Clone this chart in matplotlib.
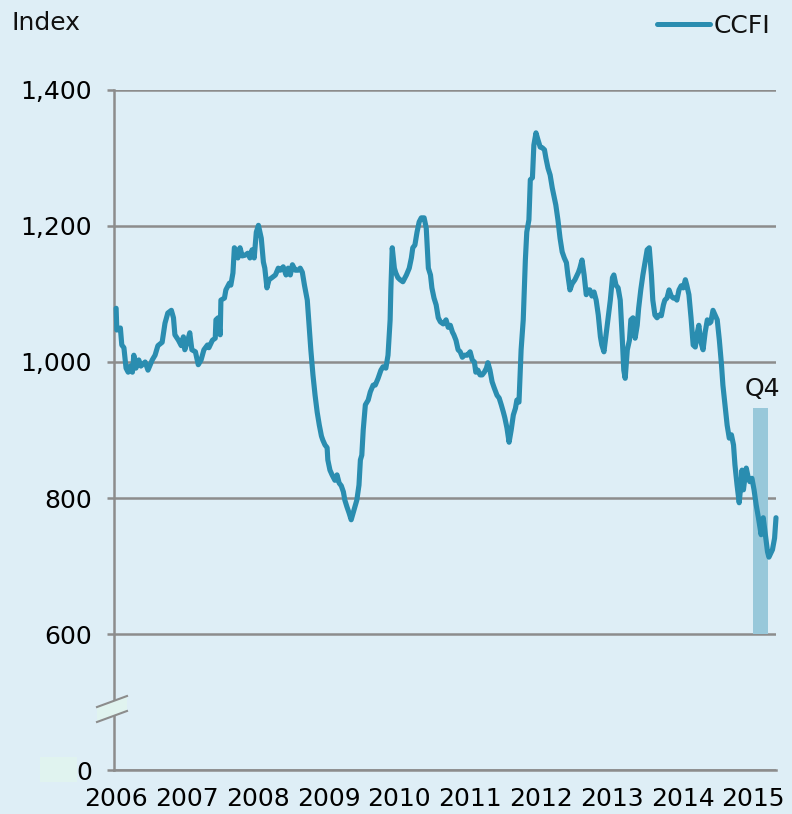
import matplotlib
matplotlib.use("Agg")
import matplotlib.pyplot as plt
from matplotlib.patches import Polygon, Rectangle

# CCFI weekly index (decimal year, index value)
fechas = [
    2006.00, 2006.01, 2006.06, 2006.08, 2006.11, 2006.14, 2006.17, 2006.20, 2006.23, 2006.25,
    2006.28, 2006.32, 2006.35, 2006.41, 2006.45, 2006.51, 2006.55, 2006.59, 2006.65, 2006.69,
    2006.73, 2006.78, 2006.81, 2006.83, 2006.88, 2006.92, 2006.95, 2006.97, 2007.01, 2007.04,
    2007.07, 2007.12, 2007.16, 2007.20, 2007.24, 2007.29, 2007.31, 2007.36, 2007.40, 2007.41,
    2007.44, 2007.47, 2007.48, 2007.53, 2007.55, 2007.60, 2007.62, 2007.65, 2007.67, 2007.69,
    2007.72, 2007.75, 2007.78, 2007.82, 2007.86, 2007.89, 2007.92, 2007.95, 2007.98, 2008.01,
    2008.05, 2008.08, 2008.10, 2008.13, 2008.16, 2008.20, 2008.25, 2008.29, 2008.32, 2008.36,
    2008.40, 2008.43, 2008.46, 2008.49, 2008.53, 2008.57, 2008.60, 2008.63, 2008.66, 2008.70,
    2008.73, 2008.75, 2008.78, 2008.81, 2008.84, 2008.87, 2008.90, 2008.92, 2008.95, 2008.98,
    2008.99, 2009.02, 2009.05, 2009.09, 2009.12, 2009.15, 2009.18, 2009.21, 2009.23, 2009.26,
    2009.29, 2009.32, 2009.35, 2009.38, 2009.40, 2009.43, 2009.45, 2009.47, 2009.49, 2009.52,
    2009.56, 2009.59, 2009.63, 2009.66, 2009.70, 2009.74, 2009.77, 2009.81, 2009.84, 2009.87,
    2009.88, 2009.90, 2009.93, 2009.95, 2009.98, 2010.01, 2010.05, 2010.10, 2010.14, 2010.17,
    2010.19, 2010.22, 2010.25, 2010.28, 2010.31, 2010.35, 2010.38, 2010.41, 2010.44, 2010.46,
    2010.49, 2010.52, 2010.55, 2010.58, 2010.62, 2010.66, 2010.69, 2010.72, 2010.75, 2010.77,
    2010.80, 2010.83, 2010.86, 2010.89, 2010.92, 2010.96, 2011.00, 2011.03, 2011.06, 2011.08,
    2011.11, 2011.14, 2011.17, 2011.20, 2011.23, 2011.25, 2011.28, 2011.31, 2011.34, 2011.38,
    2011.41, 2011.44, 2011.47, 2011.49, 2011.52, 2011.55, 2011.58, 2011.61, 2011.64, 2011.66,
    2011.69, 2011.72, 2011.75, 2011.78, 2011.80, 2011.83, 2011.85, 2011.88, 2011.90, 2011.93,
    2011.96, 2011.99, 2012.02, 2012.05, 2012.07, 2012.10, 2012.13, 2012.16, 2012.19, 2012.21,
    2012.24, 2012.27, 2012.30, 2012.33, 2012.36, 2012.38, 2012.41, 2012.44, 2012.48, 2012.53,
    2012.55, 2012.58, 2012.61, 2012.64, 2012.67, 2012.69, 2012.72, 2012.75, 2012.78, 2012.81,
    2012.84, 2012.86, 2012.89, 2012.92, 2012.95, 2012.98, 2013.01, 2013.03, 2013.06, 2013.09,
    2013.12, 2013.15, 2013.17, 2013.19, 2013.22, 2013.25, 2013.27, 2013.30, 2013.33, 2013.36,
    2013.38, 2013.41, 2013.44, 2013.47, 2013.50, 2013.53, 2013.56, 2013.58, 2013.61, 2013.64,
    2013.67, 2013.70, 2013.73, 2013.75, 2013.78, 2013.81, 2013.84, 2013.87, 2013.90, 2013.92,
    2013.95, 2013.98, 2014.01, 2014.04, 2014.06, 2014.09, 2014.12, 2014.15, 2014.18, 2014.21,
    2014.23, 2014.26, 2014.29, 2014.32, 2014.35, 2014.38, 2014.40, 2014.43, 2014.46, 2014.49,
    2014.52, 2014.55, 2014.57, 2014.60, 2014.63, 2014.66, 2014.69, 2014.72, 2014.74, 2014.77,
    2014.80, 2014.83, 2014.84, 2014.86, 2014.88, 2014.90, 2014.93, 2014.95, 2014.98, 2015.01,
    2015.04, 2015.07, 2015.11, 2015.14, 2015.17, 2015.20, 2015.22, 2015.27, 2015.30, 2015.32,
]
ccfi = [
    1079, 1047, 1050, 1025, 1021, 991, 985, 994, 985, 1010,
    991, 1003, 994, 1000, 988, 1003, 1010, 1024, 1029, 1057,
    1072, 1076, 1065, 1040, 1032, 1024, 1037, 1018, 1031, 1043,
    1018, 1015, 996, 1003, 1018, 1025, 1021, 1032, 1035, 1062,
    1065, 1040, 1091, 1094, 1106, 1116, 1113, 1131, 1168, 1165,
    1153, 1168, 1156, 1157, 1160, 1153, 1165, 1153, 1191, 1201,
    1182, 1147, 1138, 1109, 1121, 1124, 1128, 1138, 1135, 1140,
    1128, 1138, 1128, 1143, 1135, 1135, 1138, 1132, 1113, 1091,
    1047, 1018, 981, 951, 926, 907, 891, 885, 878, 874,
    856, 841, 834, 826, 834, 822, 818, 809, 797, 787,
    778, 768, 779, 790, 797, 819, 856, 863, 900, 937,
    944, 956, 966, 966, 976, 988, 993, 991, 1010, 1062,
    1106, 1168, 1138, 1131, 1124, 1121, 1118, 1128, 1138, 1153,
    1168, 1172, 1191, 1206, 1212, 1212, 1197, 1138, 1128, 1109,
    1094, 1084, 1065, 1059, 1056, 1062, 1051, 1054, 1044, 1040,
    1032, 1018, 1015, 1007, 1010, 1010, 1015, 1003, 1000, 985,
    988, 981, 981, 985, 991, 999, 988, 971, 962, 951,
    947, 937, 926, 918, 903, 882, 900, 922, 932, 944,
    941, 1018, 1062, 1150, 1191, 1209, 1268, 1271, 1319, 1337,
    1326, 1316, 1315, 1312, 1300, 1285, 1275, 1256, 1241, 1231,
    1209, 1182, 1162, 1153, 1146, 1128, 1106, 1115, 1121, 1132,
    1138, 1150, 1128, 1099, 1106, 1106, 1097, 1103, 1091, 1069,
    1037, 1025, 1015, 1040, 1065, 1091, 1124, 1128, 1113, 1109,
    1091, 1032, 988, 976, 1018, 1032, 1062, 1065, 1035, 1054,
    1079, 1106, 1128, 1147, 1165, 1168, 1128, 1091, 1069, 1065,
    1069, 1068, 1084, 1091, 1094, 1106, 1097, 1094, 1094, 1091,
    1106, 1112, 1109, 1121, 1113, 1099, 1065, 1025, 1022, 1044,
    1054, 1029, 1018, 1044, 1062, 1057, 1059, 1076, 1069, 1062,
    1032, 996, 966, 937, 907, 888, 893, 878, 849, 819,
    793, 826, 841, 812, 829, 844, 829, 824, 829, 812,
    790, 772, 746, 771, 746, 721, 713, 724, 741, 771,
]

anios = [2006, 2007, 2008, 2009, 2010, 2011, 2012, 2013, 2014, 2015]
ticks_y = [0, 600, 800, 1000, 1200, 1400]
etiquetas_y = ['0', '600', '800', '1,000', '1,200', '1,400']

# trimestre resaltado
q4_inicio = 2015.00
q4_fin = 2015.21
q4_alto = 932
q4_base = 600

fondo = '#deeef6'
azul = '#2a8db0'
gris = '#8c8c8c'
menta = '#e0f3ef'


def eje(v):
    # el tramo 0-600 esta cortado: 0 se dibuja donde iria 400
    return v if v >= 600 else 400 + v * (200 / 600)


fig = plt.figure(figsize=(7.92, 8.14), dpi=100, facecolor=fondo)
ax = fig.add_axes([114 / 792, 1 - 770 / 814, 662 / 792, 680 / 814])
ax.set_facecolor(fondo)

ax.set_xlim(2005.97, 2015.32)
ax.set_ylim(400, 1400)

ax.bar((q4_inicio + q4_fin) / 2, q4_alto - q4_base, width=q4_fin - q4_inicio,
       bottom=q4_base, color='#98c8da', zorder=2)
ax.text(2015.13, 943, 'Q4', fontsize=18, ha='center', va='bottom', color='#111111')

ax.plot(fechas, [eje(v) for v in ccfi], color=azul, lw=3.7,
        solid_joinstyle='round', solid_capstyle='round', zorder=3, clip_on=False)

ax.set_yticks([eje(v) for v in ticks_y])
ax.set_yticklabels(etiquetas_y)
ax.set_xticks(anios)
ax.set_xticklabels([str(a) for a in anios])
ax.grid(axis='y', color=gris, lw=1.8, zorder=1)
ax.tick_params(axis='y', length=5, width=1.8, color=gris, labelsize=18, pad=11)
ax.tick_params(axis='x', length=0, labelsize=18, pad=12)

for s in ['top', 'right']:
    ax.spines[s].set_visible(False)
for s in ['left', 'bottom']:
    ax.spines[s].set_color(gris)
    ax.spines[s].set_linewidth(1.8)

# corte del eje y
tr = ax.get_yaxis_transform()
dx1, dx2 = -17 / 662, 13 / 662
arriba = [(dx1, 492.6), (dx2, 508.8)]
abajo = [(dx1, 470.6), (dx2, 486.8)]
ax.add_patch(Polygon(arriba + abajo[::-1], closed=True, transform=tr, facecolor=menta,
                     edgecolor='none', clip_on=False, zorder=5))
for seg in (arriba, abajo):
    ax.plot([p[0] for p in seg], [p[1] for p in seg], transform=tr, color=gris,
            lw=1.5, clip_on=False, zorder=6)

fig.patches.append(Rectangle((40 / 792, 1 - 782 / 814), 37 / 792, 25 / 814,
                             transform=fig.transFigure, facecolor=menta, edgecolor='none',
                             zorder=0))

fig.text(12 / 792, 1 - 30 / 814, 'Index', fontsize=18, ha='left', va='baseline', color='#111111')
fig.lines.append(plt.Line2D([657 / 792, 710 / 792], [1 - 24 / 814, 1 - 24 / 814],
                            transform=fig.transFigure, color=azul, lw=3.6, solid_capstyle='round'))
fig.text(714 / 792, 1 - 33 / 814, 'CCFI', fontsize=18, ha='left', va='baseline', color='#111111')

fig.savefig('out.png', dpi=100, facecolor=fondo)
